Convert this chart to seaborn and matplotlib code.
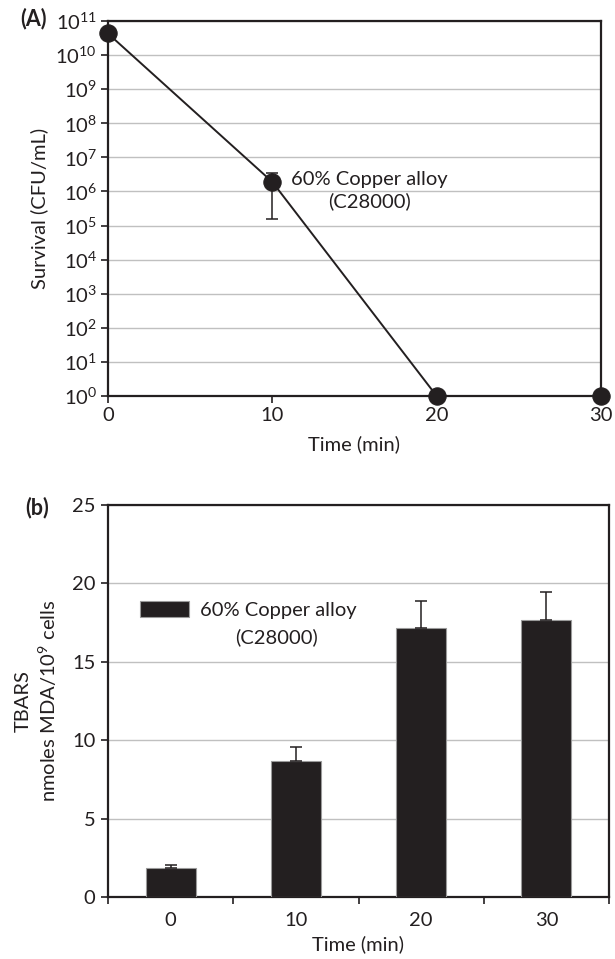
import numpy as np
import pandas as pd
import matplotlib
matplotlib.use("Agg")
import matplotlib.pyplot as plt
import seaborn as sns

# ---------------- data ----------------
time_min = [0, 10, 20, 30]
survival = [4.3e10, 1.9e6, 1.0, 1.0]
surv_err_low = [0, 1.9e6 - 1.6e5, 0, 0]
surv_err_high = [0, 3.5e6 - 1.9e6, 0, 0]

bar_cats = ["0", "10", "20", "30"]
tbars = [1.87, 8.68, 17.15, 17.68]
tbars_err = [0.19, 0.87, 1.73, 1.79]

series_label = "60% Copper alloy"
series_sub = "(C28000)"

# ---------------- style ----------------
sns.set_theme(style="white")
plt.rcParams["font.family"] = ["Lato", "DejaVu Sans"]
plt.rcParams["mathtext.fontset"] = "custom"
plt.rcParams["mathtext.rm"] = "Lato"
plt.rcParams["mathtext.it"] = "Lato:italic"
plt.rcParams["mathtext.bf"] = "Lato:bold"

DARK = "#231f20"
GRID = "#c0c0c0"
FS = 14.5

fig = plt.figure(figsize=(6.15, 9.59), dpi=100)
W, H = 615, 959

def axes_px(l, r, t, b):
    return fig.add_axes([l / W, 1 - b / H, (r - l) / W, (b - t) / H])

# ---------------- panel A ----------------
ax1 = axes_px(108, 601, 21, 396)
df1 = pd.DataFrame({"time": time_min, "survival": survival})
ax1.set_yscale("log")
ax1.errorbar(time_min, survival, yerr=[surv_err_low, surv_err_high], fmt="none",
             ecolor=DARK, elinewidth=1.1, capsize=4, capthick=1.1, zorder=3)
sns.lineplot(data=df1, x="time", y="survival", ax=ax1, color=DARK, linewidth=1.4,
             marker="o", markersize=12.5, markerfacecolor=DARK, markeredgecolor=DARK,
             zorder=4, clip_on=False)
ax1.set_xlim(0, 30)
ax1.set_ylim(1, 1e11)
ax1.set_yticks([10.0 ** k for k in range(0, 12)])
ax1.set_yticklabels([r"$\mathregular{10^{%d}}$" % k for k in range(0, 12)])
ax1.yaxis.set_minor_locator(matplotlib.ticker.NullLocator())
ax1.set_xticks(time_min)
ax1.set_xticklabels([str(t) for t in time_min])
ax1.grid(axis="y", color=GRID, linewidth=1.0)
ax1.grid(axis="x", visible=False)
ax1.set_axisbelow(True)
for s in ax1.spines.values():
    s.set_color(DARK)
    s.set_linewidth(1.6)
ax1.tick_params(axis="both", which="major", direction="out", length=5, width=1.2,
                color=DARK, labelsize=FS, labelcolor=DARK, left=True, bottom=True, pad=3)
ax1.set_xlabel("Time (min)", fontsize=FS, color=DARK, labelpad=8)
ax1.set_ylabel("Survival (CFU/mL)", fontsize=FS, color=DARK, labelpad=5)
ax1.annotate(series_label + "\n" + series_sub, xy=(0.53, 0.548), xycoords="axes fraction",
             ha="center", va="center", fontsize=FS, color=DARK, multialignment="center",
             linespacing=1.3)
fig.text(20 / W, 1 - 19 / H, "(A)", fontsize=15.5, fontweight="bold", color=DARK,
         ha="left", va="center")

# ---------------- panel b ----------------
ax2 = axes_px(108, 609, 505, 897)
df2 = pd.DataFrame({"time": bar_cats, "tbars": tbars})
sns.barplot(data=df2, x="time", y="tbars", ax=ax2, color=DARK, width=0.4,
            edgecolor="#9a9a9a", linewidth=0.8, saturation=1, errorbar=None,
            label=series_label, zorder=3)
pos = np.arange(len(bar_cats))
ax2.errorbar(pos, tbars, yerr=[np.zeros(len(tbars)), tbars_err], fmt="none",
             ecolor=DARK, elinewidth=1.1, capsize=4, capthick=1.1, zorder=4)
ax2.set_xlim(-0.5, len(bar_cats) - 0.5)
ax2.set_ylim(0, 25)
ax2.set_yticks([0, 5, 10, 15, 20, 25])
ax2.set_xticks(pos)
ax2.set_xticklabels(bar_cats)
ax2.set_xticks(np.arange(-0.5, len(bar_cats)), minor=True)
ax2.grid(axis="y", color=GRID, linewidth=1.0)
ax2.grid(axis="x", visible=False)
ax2.set_axisbelow(True)
for s in ax2.spines.values():
    s.set_color(DARK)
    s.set_linewidth(1.6)
ax2.tick_params(axis="y", which="major", direction="out", length=5, width=1.2,
                color=DARK, labelsize=FS, labelcolor=DARK, left=True, pad=4)
ax2.tick_params(axis="x", which="major", length=0, labelsize=FS, labelcolor=DARK, pad=11)
ax2.tick_params(axis="x", which="minor", direction="out", length=5, width=1.2,
                color=DARK, bottom=True)
ax2.set_xlabel("Time (min)", fontsize=FS, color=DARK, labelpad=4)
ax2.set_ylabel("TBARS\nnmoles MDA/10$^{9}$ cells", fontsize=FS, color=DARK,
               labelpad=9, linespacing=1.3)
leg = ax2.legend(loc="center left", bbox_to_anchor=(0.064, 0.732), frameon=False,
                 fontsize=FS, handlelength=2.45, handleheight=0.8, handletextpad=0.55,
                 borderaxespad=0, borderpad=0)
for t in leg.get_texts():
    t.set_color(DARK)
ax2.annotate(series_sub, xy=(0.337, 0.663), xycoords="axes fraction", ha="center",
             va="center", fontsize=FS, color=DARK)
fig.text(25 / W, 1 - 508 / H, "(b)", fontsize=15.5, fontweight="bold", color=DARK,
         ha="left", va="center")

fig.savefig("out.png", dpi=100)
